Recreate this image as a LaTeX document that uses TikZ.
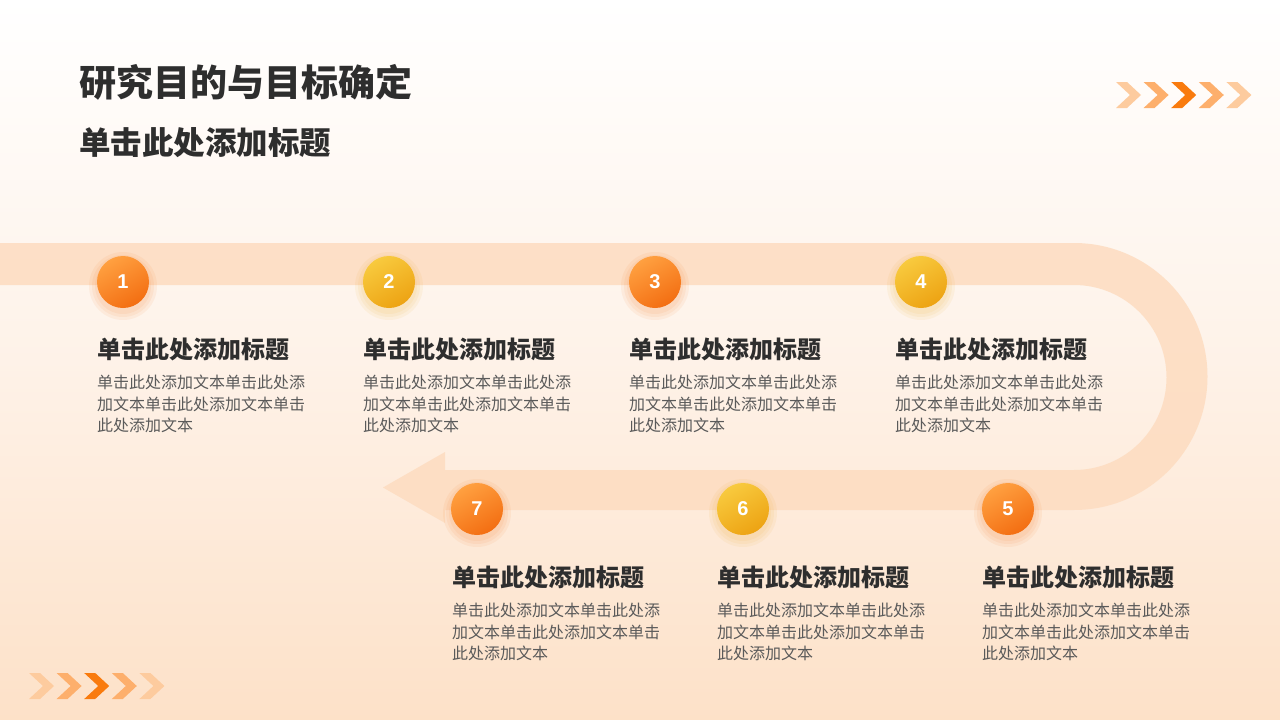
\documentclass[tikz,border=0pt]{standalone}
\usepackage{fontspec}
\setmainfont{Liberation Sans}
\newfontfamily\cjk{Noto Sans CJK SC}
\definecolor{bandc}{HTML}{FDDCC0}
\definecolor{titlec}{HTML}{2E2E2E}
\definecolor{bodyc}{HTML}{5A5A5A}
\definecolor{orA}{HTML}{FFA040}
\definecolor{orB}{HTML}{F36E12}
\definecolor{yeA}{HTML}{F8CA3E}
\definecolor{yeB}{HTML}{EDA313}
\definecolor{chvA}{HTML}{FDCB9E}
\definecolor{chvB}{HTML}{FDAF6C}
\definecolor{chvC}{HTML}{F97B0E}
\definecolor{bgbot}{HTML}{FDE1C8}
\definecolor{bgmid}{HTML}{FEF2E8}
\begin{document}
\begin{tikzpicture}[x=1pt,y=-1pt,
  orangeball/.style={circle,minimum size=52pt,inner sep=0pt,top color=orA,bottom color=orB,shading angle=30,text=white,font=\bfseries\fontsize{20}{20}\selectfont},
  yellowball/.style={circle,minimum size=52pt,inner sep=0pt,top color=yeA,bottom color=yeB,shading angle=30,text=white,font=\bfseries\fontsize{20}{20}\selectfont},
  glow/.style={fill=#1,opacity=0.07},
  headtxt/.style={anchor=west,inner sep=0pt,text=titlec,font=\cjk\bfseries\fontsize{24}{26}\selectfont},
  bodytxt/.style={anchor=north west,inner sep=0pt,align=left,text=bodyc,font=\cjk\fontsize{16}{21.5}\selectfont},
  chev/.style={fill=#1}
]
\useasboundingbox (0,0) rectangle (1280,720);
% background
\shade[top color=white,bottom color=bgbot,middle color=bgmid] (0,0) rectangle (1280,720);
% band with arrow
\fill[bandc,opacity=0.85] (0,243) -- (1074,243) arc (-90:90:133.5) -- (445,510) -- (445,523) -- (383,487.5) -- (445,452) -- (445,470) -- (1074,470) arc (90:-90:92.5) -- (0,285) -- cycle;
% titles
\node[anchor=west,inner sep=0pt,text=titlec,font=\cjk\bfseries\fontsize{37}{40}\selectfont] (title) at (79,82) {研究目的与目标确定};
\node[anchor=west,inner sep=0pt,text=titlec,font=\cjk\bfseries\fontsize{31.5}{34}\selectfont] (subtitle) at (79,143) {单击此处添加标题};
% chevrons
\foreach \i/\c in {0/chvA,1/chvB,2/chvC,3/chvB,4/chvA}{
  \fill[chev=\c] ({1116+27.6*\i},82) -- ++(11,0) -- ++(14,13) -- ++(-14,13) -- ++(-11,0) -- ++(14,-13) -- cycle;
  \fill[chev=\c] ({29+27.6*\i},673) -- ++(11,0) -- ++(14,13) -- ++(-14,13) -- ++(-11,0) -- ++(14,-13) -- cycle;
}
% glows
\foreach \x/\y/\c in {123/282/orB,389/282/yeB,655/282/orB,921/282/yeB,1008/509/orB,743/509/yeB,477/509/orB}{
  \fill[glow=\c] (\x,\y+4) circle (34);
  \fill[glow=\c] (\x,\y+4) circle (31);
  \fill[glow=\c] (\x,\y+4) circle (28);
}
% balls
\node[orangeball] (c1) at (123,282) {1};
\node[yellowball] (c2) at (389,282) {2};
\node[orangeball] (c3) at (655,282) {3};
\node[yellowball] (c4) at (921,282) {4};
\node[orangeball] (c5) at (1008,509) {5};
\node[yellowball] (c6) at (743,509) {6};
\node[orangeball] (c7) at (477,509) {7};
% texts
\foreach \n/\x/\y in {1/97/349,2/363/349,3/629/349,4/895/349,7/452/577,6/717/577,5/982/577}{
  \node[headtxt] (h\n) at (\x,\y) {单击此处添加标题};
  \node[bodytxt] (b\n) at (\x,\y+26) {单击此处添加文本单击此处添\\加文本单击此处添加文本单击\\此处添加文本};
}
\end{tikzpicture}
\end{document}
